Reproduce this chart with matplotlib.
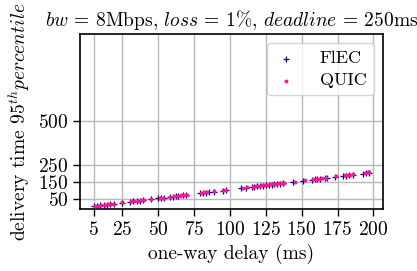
import numpy as np
import matplotlib
matplotlib.use("Agg")
import matplotlib.pyplot as plt

plt.rcParams["font.family"] = "serif"
plt.rcParams["font.serif"] = ["cmr10"]
plt.rcParams["mathtext.fontset"] = "cm"
plt.rcParams["axes.formatter.use_mathtext"] = True
plt.rcParams["axes.unicode_minus"] = False

# one-way delay (ms) and 95th percentile delivery time (ms)
flec_delay = [5, 7, 9, 12, 14, 16, 19, 25, 30, 32, 35, 37, 39, 45, 50, 52, 54,
              58, 60, 62, 64, 67, 69, 79, 81, 83, 85, 89, 95, 97, 108, 111, 115,
              117, 119, 121, 123, 125, 127, 129, 131, 133, 135, 137, 144, 151,
              157, 159, 161, 163, 166, 168, 173, 179, 181, 183, 186, 193, 195, 197]
flec_time = [11, 13, 15, 18, 20, 22, 25, 31, 36, 38, 41, 43, 45, 51, 56, 58, 60,
             64, 66, 68, 70, 73, 75, 85, 87, 89, 91, 95, 101, 103, 113, 117, 121,
             123, 125, 127, 129, 131, 133, 135, 137, 139, 141, 143, 150, 157,
             163, 165, 167, 169, 172, 174, 179, 185, 187, 189, 192, 199, 201, 203]

quic_delay = [6, 8, 10, 13, 15, 17, 19, 25, 31, 33, 36, 38, 40, 45, 51, 53, 58,
              61, 63, 65, 66, 68, 70, 80, 82, 84, 89, 95, 97, 109, 112, 116, 118,
              120, 122, 124, 126, 128, 130, 132, 134, 136, 138, 145, 152, 158,
              160, 162, 164, 167, 174, 180, 182, 184, 186, 194, 196, 197]
quic_time = [13, 14, 17, 20, 22, 23, 26, 33, 38, 40, 43, 45, 47, 52, 58, 60, 66,
             68, 70, 72, 73, 75, 77, 88, 90, 92, 97, 103, 105, 116, 120, 124, 126,
             128, 130, 132, 134, 136, 138, 140, 142, 144, 146, 152, 159, 166,
             168, 170, 172, 175, 182, 188, 190, 192, 194, 203, 205, 206]

x_ticks = [5, 25, 50, 75, 100, 125, 150, 175, 200]
y_ticks = [50, 150, 250, 500]

fig = plt.figure(figsize=(4.17, 2.71), dpi=100)
ax = fig.add_axes([0.192, 0.229, 0.726, 0.644])

ax.scatter(flec_delay, flec_time, marker="+", s=18, linewidths=0.9,
           color="#00008B", label="FlEC", zorder=3)
ax.scatter(quic_delay, quic_time, marker="o", s=8, linewidths=0,
           color="#FF1493", label="QUIC", zorder=4)

ax.set_ylim(-5, 1000)
ax.set_xticks(x_ticks)
ax.set_yticks(y_ticks)
ax.tick_params(labelsize=14, width=1.0, length=5)
for sp in ax.spines.values():
    sp.set_linewidth(1.2)
ax.grid(True, color="#b8b8b8", linewidth=1.0)
ax.set_axisbelow(True)

ax.set_xlabel("one-way delay (ms)", fontsize=14)
ax.set_ylabel(r"delivery time 95$^{th}percentile$", fontsize=14)
ax.set_title(r"$bw$ = 8Mbps, $loss$ = 1%, $deadline$ = 250ms", fontsize=14, x=0.5)
ax.legend(loc="upper right", fontsize=13, handlelength=1.2, handletextpad=1.3,
          borderpad=0.4, labelspacing=0.35)

fig.savefig("out.png", dpi=100)
